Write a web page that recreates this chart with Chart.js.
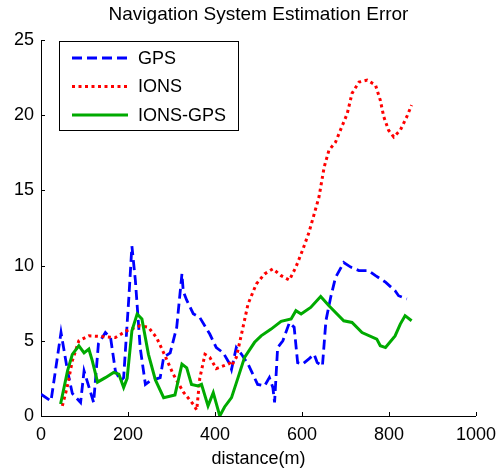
<!DOCTYPE html>
<html>
<head>
<meta charset="utf-8">
<script src="https://cdn.jsdelivr.net/npm/chart.js@4/dist/chart.umd.min.js"></script>
<style>
  html, body { margin: 0; padding: 0; background: #fff; }
  #chart { display: block; }
</style>
</head>
<body>
<canvas id="chart" width="504" height="472"></canvas>
<script>
// Values (distance in m, error)
const gpsX = [0, 23, 46, 61, 72, 91, 99, 121, 132, 148, 160, 171, 183, 190, 202, 209, 217, 228, 240, 251, 274, 282, 297, 312, 324, 327, 335, 350, 365, 388, 403, 419, 434, 438, 449, 461, 476, 498, 514, 525, 533, 537, 544, 556, 571, 582, 590, 601, 616, 628, 635, 647, 655, 666, 677, 696, 712, 731, 753, 769, 792, 814, 822, 841];
const gpsY = [1.45, 1.0, 5.55, 3.0, 1.5, 0.9, 3.0, 0.9, 4.8, 5.55, 5.2, 3.0, 2.33, 2.55, 7.9, 11.3, 9.0, 4.55, 2.1, 2.33, 2.55, 3.9, 4.2, 5.9, 9.45, 8.3, 7.7, 6.8, 6.55, 5.45, 4.55, 4.2, 3.45, 3.1, 4.55, 4.1, 3.45, 2.1, 2.0, 2.55, 1.9, 0.9, 4.55, 5.0, 6.2, 5.9, 3.55, 3.45, 3.8, 4.1, 3.55, 3.33, 6.33, 7.9, 9.2, 10.2, 9.9, 9.67, 9.67, 9.33, 8.9, 8.33, 8.0, 7.78];

const ionsX = [49, 60, 72, 87, 110, 148, 171, 197, 228, 247, 266, 282, 304, 327, 350, 358, 365, 377, 388, 403, 419, 434, 438, 449, 461, 476, 495, 514, 533, 552, 571, 586, 601, 616, 639, 651, 662, 677, 693, 704, 715, 731, 750, 769, 780, 788, 799, 811, 826, 841, 852];
const ionsY = [0.67, 1.9, 3.67, 5.0, 5.33, 5.27, 5.22, 5.67, 6.0, 5.9, 5.2, 4.2, 2.78, 1.6, 0.78, 0.4, 2.5, 4.1, 3.9, 3.15, 3.33, 3.5, 3.33, 3.9, 5.45, 7.45, 8.78, 9.45, 9.78, 9.33, 9.04, 9.9, 11.0, 12.2, 14.55, 16.55, 17.67, 18.2, 19.33, 20.1, 21.45, 22.2, 22.33, 22.0, 21.0, 19.9, 19.0, 18.55, 19.0, 19.9, 20.67];

const ionsGpsX = [45, 61, 72, 87, 99, 110, 118, 130, 148, 167, 179, 190, 198, 209, 221, 232, 247, 263, 282, 308, 324, 335, 346, 361, 369, 384, 396, 411, 422, 438, 453, 468, 491, 506, 529, 552, 575, 586, 598, 620, 643, 662, 696, 715, 738, 772, 780, 792, 814, 826, 837, 852];
const ionsGpsY = [0.8, 3.0, 4.1, 4.67, 4.2, 4.45, 3.67, 2.25, 2.55, 2.9, 2.78, 1.9, 2.5, 5.67, 6.78, 6.45, 4.1, 2.4, 1.22, 1.4, 3.45, 3.2, 2.1, 2.0, 2.1, 0.67, 1.55, 0.0, 0.6, 1.22, 2.55, 3.9, 4.9, 5.33, 5.78, 6.29, 6.45, 7.0, 6.78, 7.22, 7.95, 7.33, 6.33, 6.22, 5.55, 5.11, 4.67, 4.55, 5.33, 6.11, 6.67, 6.33];

const seriesNames = ['GPS', 'IONS', 'IONS-GPS'];
const xTicks = [0, 200, 400, 600, 800, 1000];
const yTicks = [0, 5, 10, 15, 20, 25];

const FONT = 'Liberation Sans, Arial, Helvetica, sans-serif';

function toPoints(xs, ys) {
    return xs.map((x, i) => ({ x: x, y: ys[i] }));
}

// inward tick marks + boxed legend inside the plot
const axesExtras = {
    id: 'axesExtras',
    afterDraw(chart) {
        const ctx = chart.ctx;
        const xs = chart.scales.x, ys = chart.scales.y;
        const area = chart.chartArea;
        ctx.save();
        ctx.strokeStyle = '#000';
        ctx.lineWidth = 1;
        ctx.beginPath();
        yTicks.forEach(v => {
            const py = Math.round(ys.getPixelForValue(v)) + 0.5;
            ctx.moveTo(area.left, py);
            ctx.lineTo(area.left + 4, py);
        });
        xTicks.forEach(v => {
            const px = Math.round(xs.getPixelForValue(v)) + 0.5;
            ctx.moveTo(px, area.bottom);
            ctx.lineTo(px, area.bottom - 4);
        });
        ctx.stroke();

        // legend
        const lx = area.left + 18, ly = area.top + 1, lw = 179, lh = 89;
        ctx.fillStyle = '#fff';
        ctx.fillRect(lx, ly, lw, lh);
        ctx.strokeRect(lx + 0.5, ly + 0.5, lw, lh);
        chart.data.datasets.forEach((ds, i) => {
            const cy = ly + 17 + i * 28.5;
            ctx.beginPath();
            ctx.strokeStyle = ds.borderColor;
            ctx.lineWidth = ds.borderWidth;
            ctx.setLineDash(ds.borderDash || []);
            ctx.moveTo(lx + 13, cy);
            ctx.lineTo(lx + 69, cy);
            ctx.stroke();
            ctx.setLineDash([]);
            ctx.fillStyle = '#000';
            ctx.font = '18px ' + FONT;
            ctx.textBaseline = 'middle';
            ctx.textAlign = 'left';
            ctx.fillText(ds.label, lx + 79, cy + 1);
        });
        ctx.restore();
    }
};

const ctx = document.getElementById('chart').getContext('2d');
const chart = new Chart(ctx, {
    type: 'line',
    data: {
        datasets: [
            { label: seriesNames[0], data: toPoints(gpsX, gpsY), borderColor: '#0000ff', borderWidth: 2.8, borderDash: [10, 5], order: 2 },
            { label: seriesNames[1], data: toPoints(ionsX, ionsY), borderColor: '#ff0000', borderWidth: 3, borderDash: [3, 3.5], order: 1 },
            { label: seriesNames[2], data: toPoints(ionsGpsX, ionsGpsY), borderColor: '#00aa00', borderWidth: 3, order: 0 }
        ]
    },
    options: {
        responsive: false,
        animation: false,
        layout: { padding: { left: 0, right: 22, top: 0, bottom: 0 } },
        elements: { point: { radius: 0 }, line: { tension: 0, fill: false } },
        plugins: {
            legend: { display: false },
            tooltip: { enabled: false },
            title: {
                display: true,
                fullSize: false,
                text: 'Navigation System Estimation Error',
                color: '#000',
                font: { family: FONT, size: 19, weight: 'normal' },
                padding: { top: 3, bottom: 14.2 }
            }
        },
        scales: {
            x: {
                type: 'linear',
                min: 0, max: 1000,
                afterBuildTicks: s => { s.ticks = xTicks.map(v => ({ value: v })); },
                afterFit: s => { s.height = 56; },
                grid: { display: false, drawTicks: false },
                border: { display: true, color: '#000', width: 1 },
                ticks: { color: '#000', padding: 8, font: { family: FONT, size: 18 }, callback: v => String(v) },
                title: { display: true, text: 'distance(m)', color: '#000', font: { family: FONT, size: 18 }, padding: { top: 0, bottom: 2 } }
            },
            y: {
                min: 0, max: 25,
                afterBuildTicks: s => { s.ticks = yTicks.map(v => ({ value: v })); },
                afterFit: s => { s.width = 41; },
                grid: { display: false, drawTicks: false },
                border: { display: true, color: '#000', width: 1 },
                ticks: { color: '#000', padding: 7, font: { family: FONT, size: 18 } }
            }
        }
    },
    plugins: [axesExtras]
});
</script>
</body>
</html>
